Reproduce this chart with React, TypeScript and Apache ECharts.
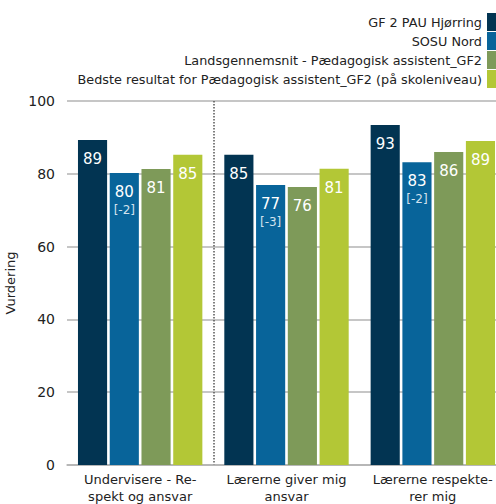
import React, { useEffect, useRef } from "react";
import * as echarts from "echarts";

const categories = ["Undervisere - Re-\nspekt og ansvar", "Lærerne giver mig\nansvar", "Lærerne respekte-\nrer mig"];
const seriesNames = [
  "GF 2 PAU Hjørring",
  "SOSU Nord",
  "Landsgennemsnit - Pædagogisk assistent_GF2",
  "Bedste resultat for Pædagogisk assistent_GF2 (på skoleniveau)",
];
const hjorring = [89.3, 85.2, 93.4];
const sosuNord = [80.2, 76.9, 83.2];
const lands = [81.3, 76.4, 86.0];
const bedste = [85.2, 81.4, 89.0];
const sosuDiff = ["[-2]", "[-3]", "[-2]"];
const yTicks = [0, 20, 40, 60, 80, 100];
const colors = ["#023452", "#08649a", "#7e9a59", "#b3c736"];

const FONT = "DejaVu Sans";

export default function App() {
  const ref = useRef<HTMLDivElement>(null);
  useEffect(() => {
    if (!ref.current) return;
    const chart = echarts.init(ref.current, undefined, { renderer: "svg" });
    const data = [hjorring, sosuNord, lands, bedste];
    const series = data.map((vals, si) => ({
      name: seriesNames[si],
      type: "bar",
      barGap: "9%",
      barCategoryGap: "15%",
      itemStyle: { color: colors[si] },
      data: vals,
      label: {
        show: true,
        position: "insideTop",
        distance: 9,
        fontFamily: FONT,
        formatter: (p: any) =>
          si === 1
            ? `{a|${Math.round(p.value)}}\n{b|${sosuDiff[p.dataIndex]}}`
            : `{a|${Math.round(p.value)}}`,
        rich: {
          a: { color: "#ffffff", fontSize: 15, fontFamily: FONT, lineHeight: 20 },
          b: { color: "#d3e2ee", fontSize: 12, fontFamily: FONT, lineHeight: 16 },
        },
      },
    }));
    chart.setOption({
      animation: false,
      legend: {
        orient: "vertical",
        right: 0,
        top: 8,
        align: "right",
        itemWidth: 14,
        itemHeight: 18,
        itemGap: 1,
        icon: "rect",
        textStyle: { fontFamily: FONT, fontSize: 12.8, color: "#222", lineHeight: 18 },
        data: seriesNames,
      },
      grid: { left: 67, right: 0, top: 101, bottom: 39, containLabel: false, outerBoundsMode: "none" },
      xAxis: {
        type: "category",
        data: categories,
        axisLine: { show: true, lineStyle: { color: "#b3b3b3", width: 1.5 } },
        axisTick: { show: false },
        axisLabel: {
          fontFamily: FONT,
          fontSize: 13,
          color: "#222",
          lineHeight: 17,
          margin: 6,
          interval: 0,
        },
        splitLine: {
          show: true,
          interval: (i: number) => i === 0 || i === 1,
          showMinLine: false,
          showMaxLine: false,
          lineStyle: { type: "dotted", color: "#555", width: 1.5 },
        },
      },
      yAxis: {
        type: "value",
        min: yTicks[0],
        max: yTicks[yTicks.length - 1],
        interval: 20,
        name: "Vurdering",
        nameLocation: "middle",
        nameGap: 40,
        nameTextStyle: { fontFamily: FONT, fontSize: 13, color: "#222" },
        axisLine: { show: false },
        axisTick: { show: false },
        axisLabel: { fontFamily: FONT, fontSize: 14, color: "#222", margin: 12 },
        splitLine: { lineStyle: { color: "#b3b3b3", width: 1.5 } },
      },
      series,
    });
    return () => chart.dispose();
  }, []);
  return (
    <div style={{ position: "fixed", left: 0, top: 0, width: 496, height: 504, overflow: "hidden", background: "#fff" }}>
      <div ref={ref} style={{ width: 506, height: 504 }} />
    </div>
  );
}
